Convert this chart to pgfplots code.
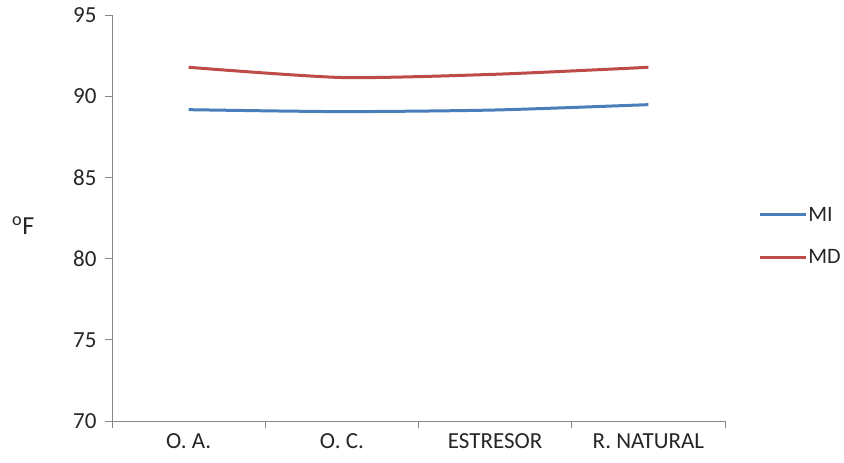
\documentclass[border=0pt]{standalone}
\usepackage{fontspec}
\setmainfont{Carlito}
\usepackage{pgfplots}
\pgfplotsset{compat=1.18}

\definecolor{miblue}{HTML}{4A7EBB}
\definecolor{mdred}{HTML}{BE4B48}
\definecolor{axisgray}{HTML}{868686}
\definecolor{txt}{HTML}{262626}

\begin{document}
\begin{tikzpicture}
\begin{axis}[
  at={(0,0)}, anchor=south west,
  scale only axis,
  width=613pt, height=406pt,
  xmin=-0.5, xmax=3.5,
  ymin=70, ymax=95,
  ytick={70,75,...,95},
  axis x line*=bottom,
  axis y line*=left,
  axis line style={axisgray, line width=0.8pt, -},
  every tick/.style={axisgray, line width=0.8pt},
  tick align=outside,
  major tick length=7pt,
  xtick={-0.5,0.5,1.5,2.5,3.5},
  xticklabels={},
  extra x ticks={0,1,2,3},
  extra x tick labels={O. A., O. C., ESTRESOR, R. NATURAL},
  extra x tick style={major tick length=0pt},
  xticklabel style={yshift=-9pt},
  /pgf/number format/assume math mode=true,
  ticklabel style={font=\fontsize{23}{25}\selectfont, text=txt},
  yticklabel style={xshift=-5pt},
  ylabel={\textsuperscript{o}F},
  ylabel style={rotate=-90, font=\fontsize{26}{28}\selectfont, text=txt, xshift=-32pt, yshift=-8pt},
  legend style={draw=none, fill=none, at={(1.054,0.455)}, anchor=west,
    font=\fontsize{22}{24}\selectfont, text=txt, row sep=25pt,
    inner sep=0pt, nodes={inner sep=1pt}},
  legend cell align=left,
  legend image code/.code={\draw[#1, line width=3pt] (0pt,0pt) -- (46pt,0pt);},
]
\addplot[miblue, line width=3pt, smooth, tension=0.4] coordinates {
  (0,89.17) (1,89.05) (2,89.15) (3,89.48)
};
\addlegendentry{MI}
\addplot[mdred, line width=3pt, smooth, tension=0.4] coordinates {
  (0,91.78) (1,91.15) (2,91.35) (3,91.78)
};
\addlegendentry{MD}
\end{axis}
\pgfresetboundingbox
\path[use as bounding box] (-112pt,-42pt) rectangle (732pt,421pt);
\end{tikzpicture}
\end{document}
